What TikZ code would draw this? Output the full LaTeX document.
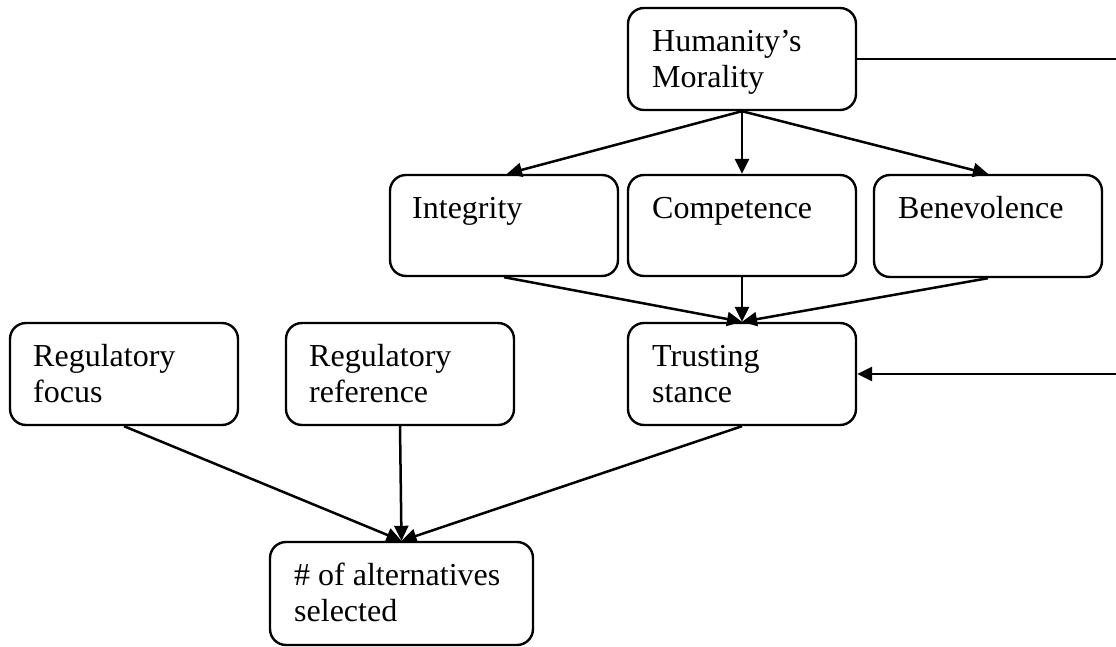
\documentclass[tikz,border=0pt]{standalone}
\usepackage{fontspec}
\setmainfont{Liberation Serif}
\usetikzlibrary{arrows.meta}
\tikzset{
  box/.style={draw, line width=1.2pt, rounded corners=8pt, inner sep=0pt},
  txt/.style={inner sep=0pt, anchor=north west, align=left, font=\fontsize{16}{18.2}\selectfont},
  conn/.style={line width=1.25pt},
  arr/.style={conn, -{Triangle[length=7.5pt,width=7pt]}}
}
\begin{document}
\begin{tikzpicture}[x=0.5pt,y=-0.5pt]
\useasboundingbox (0,0) rectangle (1116,647);
% boxes
\node[box, minimum width=114pt, minimum height=51pt] (hm) at (742,59) {};
\node[box, minimum width=114pt, minimum height=50.5pt] (int) at (504,225.5) {};
\node[box, minimum width=114pt, minimum height=50.5pt] (comp) at (742,225.5) {};
\node[box, minimum width=114pt, minimum height=51pt] (ben) at (988,226) {};
\node[box, minimum width=114pt, minimum height=51pt] (rf) at (124,374) {};
\node[box, minimum width=114pt, minimum height=51pt] (rr) at (400,374) {};
\node[box, minimum width=114pt, minimum height=51pt] (ts) at (742,374) {};
\node[box, minimum width=131.5pt, minimum height=51.5pt] (alt) at (401.5,593.5) {};
% texts
\node[txt] (hmt) at ([xshift=12.5pt,yshift=-9.2pt]hm.north west) {\strut Humanity’s\\Morality};
\node[txt] (intt) at ([xshift=11.5pt,yshift=-9.2pt]int.north west) {\strut Integrity};
\node[txt] (compt) at ([xshift=12.5pt,yshift=-9.2pt]comp.north west) {\strut Competence};
\node[txt] (bent) at ([xshift=12.5pt,yshift=-9.2pt]ben.north west) {\strut Benevolence};
\node[txt] (rft) at ([xshift=12pt,yshift=-9.2pt]rf.north west) {\strut Regulatory\\focus};
\node[txt] (rrt) at ([xshift=12pt,yshift=-9.2pt]rr.north west) {\strut Regulatory\\reference};
\node[txt] (tst) at ([xshift=12.5pt,yshift=-9.2pt]ts.north west) {\strut Trusting\\stance};
\node[txt] (altt) at ([xshift=12.5pt,yshift=-9.2pt]alt.north west) {\strut \# of alternatives\\selected};
% free ends
\coordinate (r1) at (1116,59);
\coordinate (r2) at (1116,374);
% connectors
\draw[arr] (hm.south) -- ([xshift=1.5pt]int.north);
\draw[arr] (hm.south) -- (comp.north);
\draw[arr] (hm.south) -- (ben.north);
\draw[arr] (int.south) -- (ts.north);
\draw[arr] (comp.south) -- (ts.north);
\draw[arr] (ben.south) -- (ts.north);
\draw[conn] (hm.east) -- (r1);
\draw[arr] (r2) -- (ts.east);
\draw[arr] (rf.south) -- (alt.north);
\draw[arr] (rr.south) -- (alt.north);
\draw[arr] (ts.south) -- (alt.north);
\end{tikzpicture}
\end{document}
